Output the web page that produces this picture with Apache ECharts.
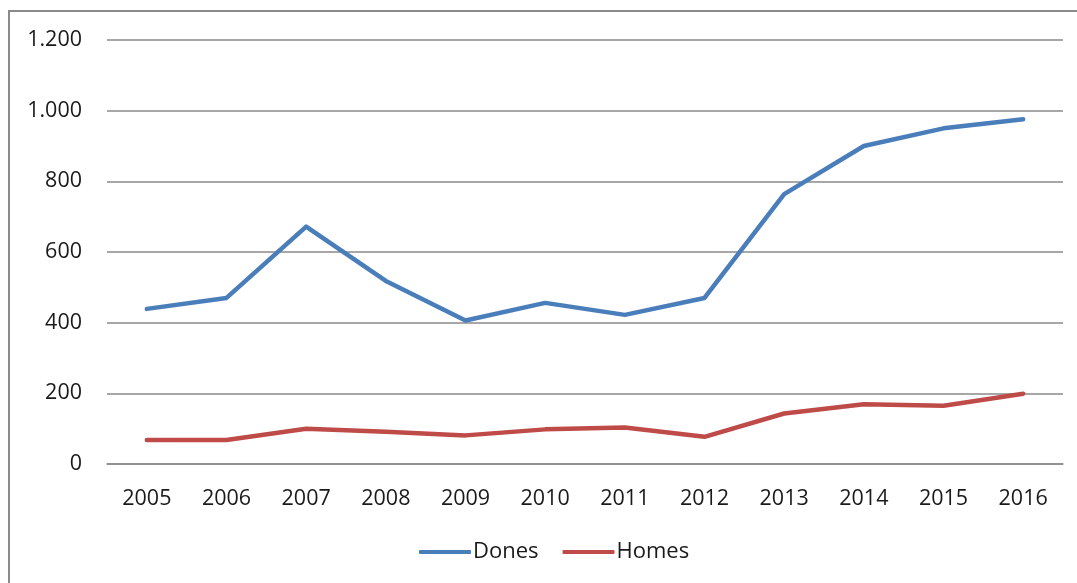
<!DOCTYPE html>
<html>
<head>
<meta charset="utf-8">
<script src="https://cdn.jsdelivr.net/npm/echarts@6/dist/echarts.min.js"></script>
<style>
    html, body {margin:0; padding:0; background:#fff;}
    #frame {position:absolute; left:8px; top:10px; width:1069px; height:573px;
        border-left:2px solid #8a8a8a; border-top:2px solid #8a8a8a;}
    #chart {position:absolute; left:0; top:0; width:1077px; height:583px;}
</style>
</head>
<body>
<div id="frame"></div>
<div id="chart"></div>
<script>
var years = ['2005','2006','2007','2008','2009','2010','2011','2012','2013','2014','2015','2016'];
var dones = [439, 470, 672, 518, 406, 456, 422, 470, 764, 900, 950, 976];
var homes = [68, 68, 100, 91, 81, 98, 103, 77, 143, 169, 165, 199];
var yTicks = [0, 200, 400, 600, 800, 1000, 1200];

var chart = echarts.init(document.getElementById('chart'));

var fmt = function (v) {
    return String(v).replace(/\B(?=(\d{3})+(?!\d))/g, '.');
};

var option = {
    animation: false,
    textStyle: {fontFamily: 'Open Sans'},
    grid: {left: 107, right: 14, top: 40, bottom: 119},
    legend: {
        left: 414,
        top: 536,
        itemWidth: 52,
        itemHeight: 4,
        itemGap: 24,
        icon: 'roundRect',
        textStyle: {fontSize: 22, color: '#1a1a1a', padding: [0, 0, 0, -3]},
        data: ['Dones', 'Homes']
    },
    xAxis: {
        type: 'category',
        data: years,
        boundaryGap: true,
        axisLine: {lineStyle: {color: '#8a8a8a', width: 1.5}},
        axisTick: {show: false},
        axisLabel: {fontSize: 21.5, color: '#1a1a1a', margin: 24}
    },
    yAxis: {
        type: 'value',
        min: yTicks[0],
        max: yTicks[yTicks.length - 1],
        interval: 200,
        axisLine: {show: false},
        axisTick: {show: false},
        axisLabel: {fontSize: 21.5, color: '#1a1a1a', margin: 25, formatter: fmt},
        splitLine: {lineStyle: {color: '#8a8a8a', width: 1.5}}
    },
    series: [
        {
            name: 'Dones',
            type: 'line',
            data: dones,
            symbol: 'none',
            itemStyle: {color: '#4a7ebb'},
            lineStyle: {color: '#4a7ebb', width: 4.5, cap: 'round', join: 'round'}
        },
        {
            name: 'Homes',
            type: 'line',
            data: homes,
            symbol: 'none',
            itemStyle: {color: '#be4b48'},
            lineStyle: {color: '#be4b48', width: 4.5, cap: 'round', join: 'round'}
        }
    ]
};

chart.setOption(option);
</script>
</body>
</html>
